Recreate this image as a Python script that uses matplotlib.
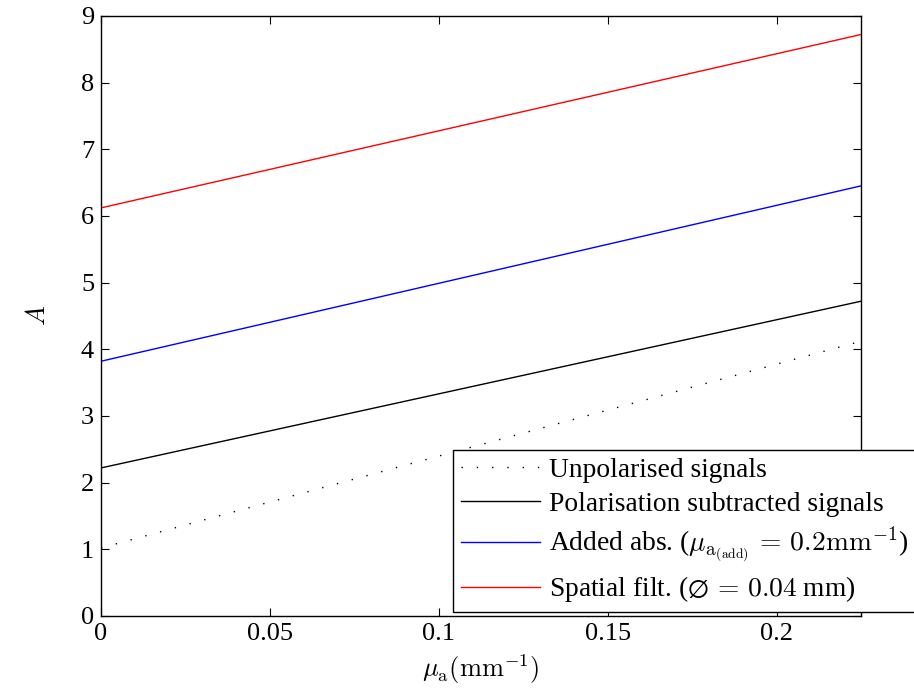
import numpy as np
import matplotlib as mpl
mpl.use("Agg")
import matplotlib.pyplot as plt

plt.rcParams['font.family'] = ['Liberation Serif', 'DejaVu Serif']
plt.rcParams['mathtext.fontset'] = 'cm'

# absorption coefficient range (mm^-1), straight lines: start/end values
mu_a = [0.0, 0.225]
unpolarised = [1.02, 4.12]
pol_subtracted = [2.22, 4.72]
added_abs = [3.82, 6.45]
spatial_filt = [6.12, 8.72]

labels = ["Unpolarised signals",
          "Polarisation subtracted signals",
          r"Added abs. ($\mu_{\mathrm{a}_{(\mathrm{add})}}\,=\,0.2\mathrm{mm}^{-1}$)",
          r"Spatial filt. ($\varnothing\,=\,0.04$ mm)"]

xticks = [0, 0.05, 0.1, 0.15, 0.2]
xticklabels = ["0", "0.05", "0.1", "0.15", "0.2"]
yticks = list(range(0, 10))

fig = plt.figure(figsize=(9.14, 6.89), dpi=100)
ax = fig.add_axes([0.1105, 0.106, 0.8315, 0.871])

ax.plot(mu_a, unpolarised, color='black', linestyle=(0, (1, 10)), linewidth=1.0, label=labels[0])
ax.plot(mu_a, pol_subtracted, color='black', linewidth=1.0, label=labels[1])
ax.plot(mu_a, added_abs, color='blue', linewidth=1.0, label=labels[2])
ax.plot(mu_a, spatial_filt, color='red', linewidth=1.0, label=labels[3])

ax.set_xlim(0, 0.225)
ax.set_ylim(0, 9)
ax.set_xticks(xticks)
ax.set_xticklabels(xticklabels)
ax.set_yticks(yticks)
ax.tick_params(direction='in', length=6, width=0.8, top=True, right=True, labelsize=19, pad=5)
for s in ax.spines.values():
    s.set_linewidth(1.0)

ax.set_xlabel(r"$\mu_{\mathrm{a}}(\mathrm{mm}^{-1})$", fontsize=19, labelpad=5)
ax.set_ylabel(r"$A$", fontsize=19, labelpad=22)

leg = fig.legend(loc='lower left', bbox_to_anchor=(0.4956, 0.1118), fontsize=19.8,
                 frameon=True, fancybox=False, framealpha=1, edgecolor='black',
                 handlelength=2.9, handletextpad=0.3, borderaxespad=0,
                 borderpad=0.28, labelspacing=0.3)
leg.get_frame().set_linewidth(1.0)

fig.savefig("out.png", dpi=100)
